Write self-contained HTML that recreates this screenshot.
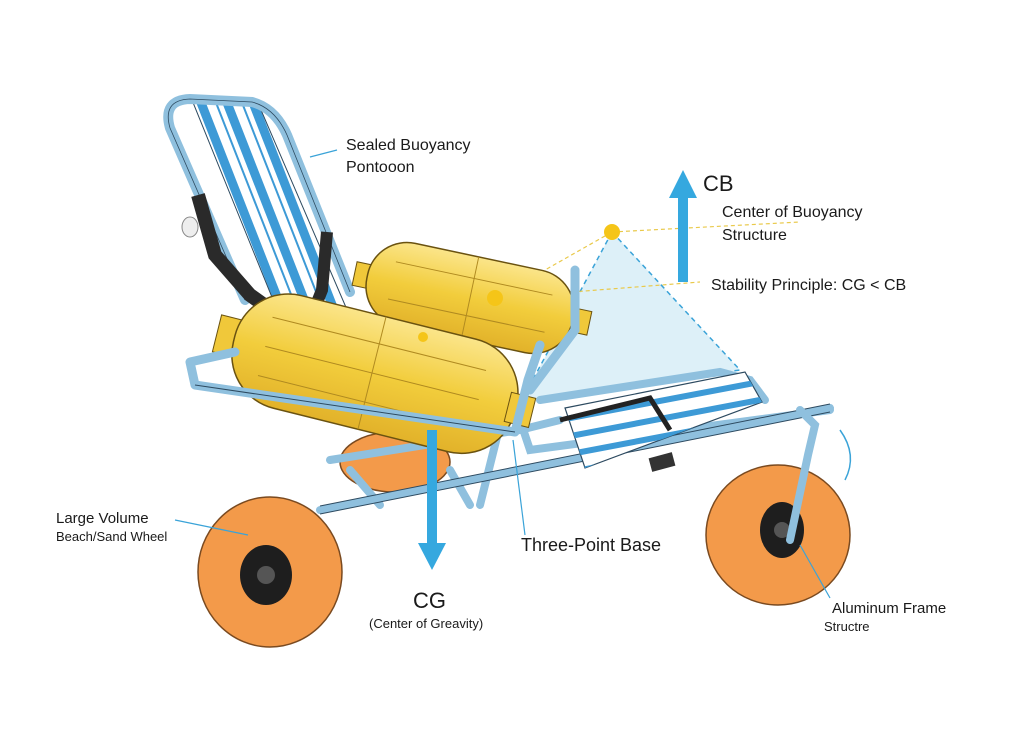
<!DOCTYPE html>
<html><head><meta charset="utf-8"><style>
html,body{margin:0;padding:0;background:#fff;}
svg{display:block}
text{font-family:"Liberation Sans",sans-serif;fill:#1a1a1a}
</style></head><body>
<svg width="1024" height="747" viewBox="0 0 1024 747" xmlns="http://www.w3.org/2000/svg">
<defs>
<linearGradient id="yl" x1="0" y1="0" x2="0" y2="1"><stop offset="0" stop-color="#fbe58a"/><stop offset="0.5" stop-color="#f2cd3c"/><stop offset="1" stop-color="#e2b22a"/></linearGradient>
<clipPath id="back"><polygon points="192,100 258,103 348,312 282,322"/></clipPath>
<clipPath id="foot"><polygon points="565,408 745,372 762,402 585,468"/></clipPath>
</defs>
<rect width="1024" height="747" fill="#fff"/>

<!-- stability triangle -->
<polygon points="612,232 522,400 740,370" fill="#d4ecf6" opacity="0.8"/>
<polyline points="612,232 522,400 740,370 612,232" fill="none" stroke="#3aa3d8" stroke-width="1.5" stroke-dasharray="5,4"/>
<line x1="612" y1="232" x2="800" y2="222" stroke="#e9c94a" stroke-width="1.2" stroke-dasharray="4,3"/>
<line x1="495" y1="298" x2="700" y2="282" stroke="#e9c94a" stroke-width="1.2" stroke-dasharray="4,3"/>
<line x1="425" y1="338" x2="612" y2="232" stroke="#e9c94a" stroke-width="1.2" stroke-dasharray="4,3"/>

<!-- back wheel -->
<ellipse cx="395" cy="462" rx="55" ry="30" fill="#f39a4a" stroke="#7a4a20" stroke-width="1.5"/>

<!-- lower frame -->
<g stroke="#8fc0de" stroke-width="8" fill="none" stroke-linecap="round">
<path d="M320,510 L830,408"/>
<path d="M330,460 L520,430 L560,420"/>
<path d="M350,470 L380,505"/>
<path d="M450,470 L470,505"/>
<path d="M500,425 L480,505"/>
<path d="M520,420 L530,450 L830,410"/>
<path d="M540,400 L720,372 L750,380 L765,400"/>
</g>
<g stroke="#2d4a60" stroke-width="1" fill="none">
<path d="M320,506 L830,404"/><path d="M320,514 L830,412"/>
</g>

<!-- footrest -->
<polygon points="565,408 745,372 762,402 585,468" fill="#fff" stroke="#2d4a60" stroke-width="1.2"/>
<g clip-path="url(#foot)" stroke="#3d9ad6" stroke-width="6">
<line x1="560" y1="420" x2="770" y2="380"/><line x1="560" y1="438" x2="770" y2="398"/><line x1="560" y1="456" x2="770" y2="416"/><line x1="560" y1="474" x2="770" y2="434"/>
</g>
<path d="M560,420 L650,398 L670,430" stroke="#222" stroke-width="5" fill="none"/>
<rect x="650" y="455" width="24" height="14" fill="#333" transform="rotate(-15 662 462)"/>

<!-- seat back -->
<polygon points="192,100 258,103 348,312 282,322" fill="#fff"/>
<g clip-path="url(#back)" stroke="#3d9ad6">
<line x1="198" y1="95" x2="288" y2="325" stroke-width="9"/>
<line x1="213" y1="95" x2="303" y2="325" stroke-width="2"/>
<line x1="224" y1="95" x2="314" y2="325" stroke-width="9"/>
<line x1="239" y1="95" x2="329" y2="325" stroke-width="2"/>
<line x1="250" y1="95" x2="340" y2="325" stroke-width="9"/>
</g>
<polygon points="192,100 258,103 348,312 282,322" fill="none" stroke="#2d4a60" stroke-width="1"/>
<path d="M245,300 L170,128 Q162,100 190,99 L252,102 Q275,108 287,135 L350,292" stroke="#8fc0de" stroke-width="10" fill="none" stroke-linecap="round"/>
<path d="M245,300 L170,128 Q162,100 190,99 L252,102 Q275,108 287,135 L350,292" stroke="#2d4a60" stroke-width="0.8" fill="none"/>
<!-- straps -->
<path d="M198,195 L215,255 L250,295 L285,320" stroke="#2a2a2a" stroke-width="14" fill="none"/>
<path d="M327,232 L322,290 L308,325" stroke="#2a2a2a" stroke-width="12" fill="none"/>
<ellipse cx="190" cy="227" rx="8" ry="10" fill="#eee" stroke="#888"/>

<!-- small pontoon -->
<g transform="translate(470,298) rotate(12)">
<rect x="-118" y="-12" width="30" height="24" fill="#f0c83a" stroke="#6a5210"/>
<rect x="100" y="-12" width="22" height="24" fill="#f0c83a" stroke="#6a5210"/>
<rect x="-105" y="-42" width="210" height="84" rx="40" fill="url(#yl)" stroke="#6a5210" stroke-width="1.5"/>
<line x1="-80" y1="-20" x2="80" y2="-20" stroke="#b08a20"/><line x1="-80" y1="18" x2="80" y2="18" stroke="#b08a20"/>
<line x1="0" y1="-42" x2="0" y2="42" stroke="#b08a20"/>
</g>
<path d="M575,270 L575,330 L530,390" stroke="#8fc0de" stroke-width="9" fill="none" stroke-linecap="round"/>

<!-- big pontoon -->
<g transform="translate(372,373) rotate(14)">
<rect x="-160" y="-20" width="35" height="38" fill="#f0c83a" stroke="#6a5210"/>
<rect x="-142" y="-58" width="290" height="116" rx="55" fill="url(#yl)" stroke="#6a5210" stroke-width="1.5"/>
<rect x="140" y="-15" width="25" height="30" fill="#f0c83a" stroke="#6a5210"/>
<line x1="-110" y1="-30" x2="110" y2="-30" stroke="#b08a20"/><line x1="-110" y1="0" x2="110" y2="0" stroke="#b08a20"/><line x1="-110" y1="30" x2="110" y2="30" stroke="#b08a20"/>
<line x1="0" y1="-58" x2="0" y2="58" stroke="#b08a20"/>
</g>
<!-- seat rail -->
<path d="M195,385 L190,362 L235,352 M195,385 L515,432 L528,380 L540,345" stroke="#8fc0de" stroke-width="9" fill="none" stroke-linecap="round" stroke-linejoin="round"/>
<path d="M195,385 L515,432" stroke="#2d4a60" stroke-width="1" fill="none"/>

<!-- points -->
<circle cx="612" cy="232" r="8" fill="#f5c518"/>
<circle cx="495" cy="298" r="8" fill="#f5c518"/>
<circle cx="423" cy="337" r="5" fill="#f5c518"/>

<!-- left wheel -->
<ellipse cx="270" cy="572" rx="72" ry="75" fill="#f39a4a" stroke="#7a4a20" stroke-width="1.5"/>
<ellipse cx="266" cy="575" rx="26" ry="30" fill="#1e1e1e"/>
<circle cx="266" cy="575" r="9" fill="#555"/>
<!-- right wheel -->
<ellipse cx="778" cy="535" rx="72" ry="70" fill="#f39a4a" stroke="#7a4a20" stroke-width="1.5"/>
<ellipse cx="782" cy="530" rx="22" ry="28" fill="#1e1e1e"/>
<circle cx="782" cy="530" r="8" fill="#555"/>
<path d="M790,540 L808,455 L815,425 L800,410" stroke="#8fc0de" stroke-width="8" fill="none" stroke-linecap="round"/>
<path d="M840,430 Q858,455 845,480" stroke="#3aa3d8" stroke-width="1.5" fill="none"/>

<!-- arrows -->
<rect x="678" y="196" width="10" height="86" fill="#35a8df"/>
<polygon points="669,198 683,170 697,198" fill="#35a8df"/>
<rect x="427" y="430" width="10" height="115" fill="#35a8df"/>
<polygon points="418,543 432,570 446,543" fill="#35a8df"/>

<!-- leader lines -->
<g stroke="#3aa3d8" stroke-width="1.2">
<line x1="337" y1="150" x2="310" y2="157"/>
<line x1="175" y1="520" x2="248" y2="535"/>
<line x1="525" y1="535" x2="513" y2="440"/>
<line x1="830" y1="598" x2="800" y2="545"/>
</g>

<!-- labels -->
<text x="346" y="150" font-size="16">Sealed Buoyancy</text>
<text x="346" y="172" font-size="16">Pontooon</text>
<text x="703" y="191" font-size="22">CB</text>
<text x="722" y="217" font-size="16">Center of Buoyancy</text>
<text x="722" y="240" font-size="16">Structure</text>
<text x="711" y="290" font-size="16">Stability Principle: CG &lt; CB</text>
<text x="56" y="523" font-size="15">Large Volume</text>
<text x="56" y="541" font-size="13">Beach/Sand Wheel</text>
<text x="521" y="551" font-size="18">Three-Point Base</text>
<text x="413" y="608" font-size="22">CG</text>
<text x="369" y="628" font-size="13">(Center of Greavity)</text>
<text x="832" y="613" font-size="15">Aluminum Frame</text>
<text x="824" y="631" font-size="13">Structre</text>
</svg>
</body></html>
